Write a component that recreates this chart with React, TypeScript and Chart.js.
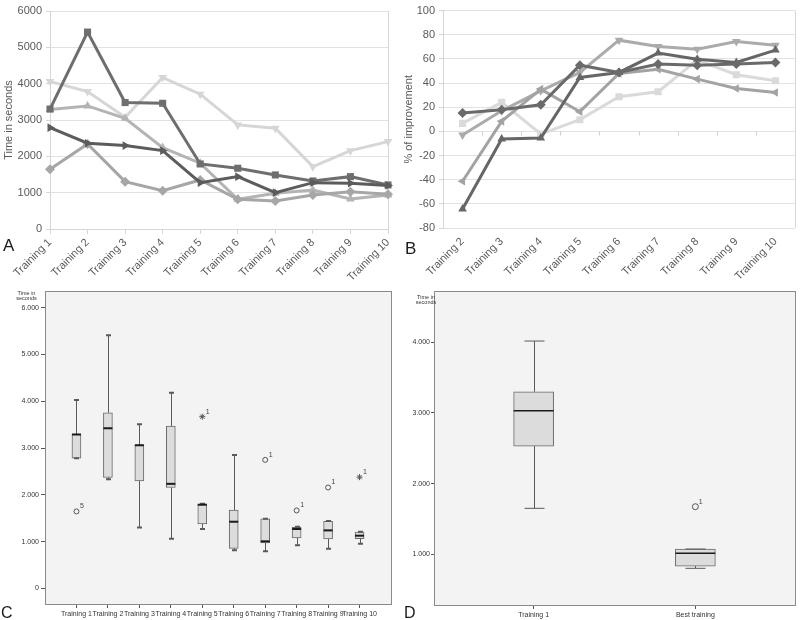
import React, { useEffect, useRef } from 'react';
import { Chart, registerables } from 'chart.js';

Chart.register(...registerables);

// ---------- shared labels ----------
const trainingLabels = ['Training 1', 'Training 2', 'Training 3', 'Training 4', 'Training 5', 'Training 6', 'Training 7', 'Training 8', 'Training 9', 'Training 10'];
const improvementLabels = ['Training 2', 'Training 3', 'Training 4', 'Training 5', 'Training 6', 'Training 7', 'Training 8', 'Training 9', 'Training 10'];
const bestLabels = ['Training 1', 'Best training'];

// ---------- panel A: time in seconds per participant ----------
const timeSquare = [3300, 5420, 3480, 3460, 1790, 1672, 1488, 1322, 1441, 1212];
const timeTriRight = [2790, 2360, 2295, 2157, 1275, 1441, 1000, 1275, 1258, 1200];
const timeTriDown = [4058, 3782, 3077, 4168, 3710, 2865, 2774, 1716, 2157, 2405];
const timeTriUp = [3287, 3388, 3049, 2240, 1810, 818, 983, 1074, 826, 937];
const timeDiamond = [1644, 2341, 1303, 1055, 1350, 818, 771, 937, 1028, 956];
const timeTicks = [0, 1000, 2000, 3000, 4000, 5000, 6000];

// ---------- panel B: % of improvement ----------
const impDiamond = [15.2, 18, 22, 54.8, 48.8, 55.7, 54.8, 55.7, 57];
const impTriUp = [-64.2, -6.3, -5.5, 44.6, 48.8, 64.8, 59.8, 57, 67.3];
const impTriLeft = [-41.3, 8.3, 35, 16.3, 48, 51.5, 43.3, 35.5, 32.2];
const impTriDown = [-3, 17, 33.6, 48.8, 75.5, 70.2, 68, 74.4, 71.4];
const impSquare = [6.6, 24, -2.2, 9.7, 28.7, 32.8, 59, 46.9, 41.9];

// ---------- panel C: box plots per training ----------
const cMin = [2780, 2336, 1306, 1065, 1271, 816, 795, 922, 852, 958];
const cQ1 = [2783, 2371, 2300, 2158, 1378, 858, 973, 1079, 1058, 1065];
const cMedian = [3290, 3423, 3060, 2236, 1790, 1427, 1008, 1271, 1242, 1129];
const cQ3 = [3295, 3755, 3067, 3472, 1803, 1676, 1491, 1306, 1434, 1208];
const cMax = [4025, 5410, 3508, 4182, 1810, 2854, 1491, 1322, 1441, 1212];
const cOutlierPos = [1, 5, 7, 8, 9, 10];
const cOutlierVal = [1647, 3670, 2748, 1668, 2158, 2379];
const cOutlierStyle = ['circle', 'star', 'circle', 'circle', 'circle', 'star'];
const cOutlierLabel = ['5', '1', '1', '1', '1', '1'];
const cTicks = [0, 1000, 2000, 3000, 4000, 5000, 6000];

// ---------- panel D: training 1 vs best training ----------
const dMin = [1651, 802];
const dQ1 = [2532, 834];
const dMedian = [3032, 1014];
const dQ3 = [3301, 1075];
const dMax = [4018, 1075];
const dOutlierPos = [2];
const dOutlierVal = [1674];
const dOutlierStyle = ['circle'];
const dOutlierLabel = ['1'];
const dTicks = [1000, 2000, 3000, 4000];

const FONT = "'Liberation Sans', Arial, Helvetica, sans-serif";
const AXIS_TEXT = '#595959';
const GRID = '#e2e2e2';
const AXIS_LINE = '#d6d6d6';

function lineDs(label: string, data: number[], color: string, style: string, rotation: number) {
  return {
    label,
    data,
    borderColor: color,
    backgroundColor: color,
    borderWidth: 3,
    pointStyle: style,
    pointRadius: 5,
    pointRotation: rotation,
    pointBackgroundColor: color,
    pointBorderColor: color,
    pointBorderWidth: 0,
    tension: 0,
  };
}

const rightEdge = {
  id: 'rightEdge',
  beforeDatasetsDraw(chart: any) {
    const { ctx, chartArea: a } = chart;
    ctx.save();
    ctx.strokeStyle = AXIS_LINE;
    ctx.lineWidth = 1;
    ctx.beginPath();
    ctx.moveTo(Math.round(a.right) + 0.5, a.top);
    ctx.lineTo(Math.round(a.right) + 0.5, a.bottom);
    ctx.stroke();
    ctx.restore();
  },
};

const zeroTicks = {
  id: 'zeroTicks',
  beforeDatasetsDraw(chart: any) {
    const { ctx } = chart;
    const xs = chart.scales.x;
    const ys = chart.scales.y;
    const y0 = Math.round(ys.getPixelForValue(0)) + 0.5;
    ctx.save();
    ctx.strokeStyle = '#cfcfcf';
    ctx.lineWidth = 1;
    ctx.beginPath();
    for (let i = 1; i < improvementLabels.length; i++) {
      const px = Math.round(xs.getPixelForValue(i - 0.5)) + 0.5;
      ctx.moveTo(px, y0);
      ctx.lineTo(px, y0 + 4);
    }
    ctx.stroke();
    ctx.restore();
  },
};

const panelFrame = {
  id: 'panelFrame',
  beforeDraw(chart: any) {
    const { ctx, chartArea: a } = chart;
    ctx.save();
    ctx.fillStyle = '#f3f3f3';
    ctx.fillRect(a.left, a.top, a.right - a.left, a.bottom - a.top);
    ctx.restore();
  },
  afterDraw(chart: any) {
    const { ctx, chartArea: a } = chart;
    ctx.save();
    ctx.strokeStyle = '#8a8a8a';
    ctx.lineWidth = 1;
    ctx.strokeRect(Math.round(a.left) + 0.5, Math.round(a.top) + 0.5, Math.round(a.right - a.left), Math.round(a.bottom - a.top));
    ctx.restore();
  },
};

function boxPlugin(id: string, mins: number[], q1s: number[], meds: number[], q3s: number[], maxs: number[], capHalf: number, capWidth: number, medWidth: number) {
  return {
    id,
    afterDatasetsDraw(chart: any) {
      const { ctx } = chart;
      const ys = chart.scales.y;
      const meta = chart.getDatasetMeta(0);
      ctx.save();
      meds.forEach((m, i) => {
        const bar = meta.data[i];
        if (!bar) return;
        const x = Math.round(bar.x) + 0.5;
        const half = bar.width / 2;
        const pMax = ys.getPixelForValue(maxs[i]);
        const pMin = ys.getPixelForValue(mins[i]);
        const pQ1 = ys.getPixelForValue(q1s[i]);
        const pQ3 = ys.getPixelForValue(q3s[i]);
        const pMed = ys.getPixelForValue(m);
        ctx.strokeStyle = '#5a5a5a';
        ctx.lineWidth = 1;
        ctx.beginPath();
        ctx.moveTo(x, pQ3);
        ctx.lineTo(x, pMax);
        ctx.moveTo(x, pQ1);
        ctx.lineTo(x, pMin);
        ctx.stroke();
        ctx.lineWidth = capWidth;
        ctx.beginPath();
        ctx.moveTo(x - capHalf, pMax);
        ctx.lineTo(x + capHalf, pMax);
        ctx.moveTo(x - capHalf, pMin);
        ctx.lineTo(x + capHalf, pMin);
        ctx.stroke();
        ctx.strokeStyle = '#1a1a1a';
        ctx.lineWidth = medWidth;
        ctx.beginPath();
        ctx.moveTo(bar.x - half, pMed);
        ctx.lineTo(bar.x + half, pMed);
        ctx.stroke();
      });
      ctx.restore();
    },
  };
}

function annotPlugin(id: string, labels: string[], capX: number, capY: number) {
  return {
    id,
    afterDraw(chart: any) {
      const { ctx } = chart;
      ctx.save();
      ctx.fillStyle = '#333';
      ctx.font = `5.5px ${FONT}`;
      ctx.textAlign = 'center';
      ctx.textBaseline = 'middle';
      ctx.fillText('Time in', capX, capY);
      ctx.fillText('seconds', capX, capY + 5.5);
      const meta = chart.getDatasetMeta(1);
      ctx.font = `7px ${FONT}`;
      ctx.textAlign = 'left';
      ctx.fillStyle = '#444';
      meta.data.forEach((pt: any, j: number) => {
        ctx.fillText(labels[j], pt.x + 3.5, pt.y - 5);
      });
      ctx.restore();
    },
  };
}

const fmtThousands = (v: number) => (v === 0 ? '0' : `${Math.floor(v / 1000)}.${String(v % 1000).padStart(3, '0')}`);

function boxConfig(opts: {
  labels: string[]; mins: number[]; q1s: number[]; meds: number[]; q3s: number[]; maxs: number[];
  outPos: number[]; outVal: number[]; outStyle: string[]; outLabel: string[]; yTicks: number[];
  xMin: number; xMax: number; yMin: number; yMax: number; barThickness: number; capHalf: number; capWidth: number;
  medWidth: number; yWidth: number; xHeight: number; padRight: number; yTickLen: number; yTickPad: number;
  capX: number; capY: number; circleR: number; id: string;
}) {
  return {
    type: 'bar',
    data: {
      datasets: [
        {
          type: 'bar',
          data: opts.q1s.map((q1, i) => ({ x: i + 1, y: [q1, opts.q3s[i]] })),
          backgroundColor: '#dcdcdc',
          borderColor: '#6a6a6a',
          borderWidth: 1,
          borderSkipped: false,
          barThickness: opts.barThickness,
        },
        {
          type: 'scatter',
          data: opts.outPos.map((x, i) => ({ x, y: opts.outVal[i] })),
          pointStyle: opts.outStyle,
          pointRadius: opts.outStyle.map((s) => (s === 'star' ? 3 : opts.circleR)),
          pointBackgroundColor: 'rgba(0,0,0,0)',
          pointBorderColor: '#555',
          pointBorderWidth: 1,
          showLine: false,
        },
      ],
    },
    options: {
      responsive: false,
      animation: false,
      events: [],
      layout: { padding: { top: 6, right: opts.padRight, bottom: 0, left: 0 } },
      plugins: { legend: { display: false }, tooltip: { enabled: false } },
      scales: {
        x: {
          type: 'linear',
          min: opts.xMin,
          max: opts.xMax,
          offset: false,
          grid: { offset: false, drawOnChartArea: false, tickLength: 4, tickColor: '#555', color: '#555' },
          border: { display: false },
          ticks: {
            stepSize: 1,
            autoSkip: false,
            maxRotation: 0,
            minRotation: 0,
            padding: 2,
            color: '#333',
            font: { size: 7, family: FONT },
            callback: (v: number) => opts.labels[v - 1] ?? '',
          },
          afterBuildTicks: (s: any) => {
            s.ticks = opts.labels.map((_, i) => ({ value: i + 1 }));
          },
          afterFit: (s: any) => {
            s.height = opts.xHeight;
          },
        },
        y: {
          type: 'linear',
          min: opts.yMin,
          max: opts.yMax,
          beginAtZero: false,
          grid: { drawOnChartArea: false, tickLength: opts.yTickLen, tickColor: '#555', color: '#555' },
          border: { display: false },
          ticks: {
            padding: opts.yTickPad,
            color: '#333',
            font: { size: 7, family: FONT },
            callback: (v: number) => fmtThousands(v),
          },
          afterBuildTicks: (s: any) => {
            s.ticks = opts.yTicks.map((v) => ({ value: v }));
          },
          afterFit: (s: any) => {
            s.width = opts.yWidth;
          },
        },
      },
    },
    plugins: [
      panelFrame,
      boxPlugin(opts.id + 'Box', opts.mins, opts.q1s, opts.meds, opts.q3s, opts.maxs, opts.capHalf, opts.capWidth, opts.medWidth),
      annotPlugin(opts.id + 'Annot', opts.outLabel, opts.capX, opts.capY),
    ],
  };
}

const letterStyle = (left: number, top: number, size: number): React.CSSProperties => ({
  position: 'absolute',
  left,
  top,
  fontFamily: FONT,
  fontSize: size,
  lineHeight: `${size}px`,
  color: '#1a1a1a',
});

export default function App() {
  const aRef = useRef<HTMLCanvasElement>(null);
  const bRef = useRef<HTMLCanvasElement>(null);
  const cRef = useRef<HTMLCanvasElement>(null);
  const dRef = useRef<HTMLCanvasElement>(null);

  useEffect(() => {
    const charts: Chart[] = [];
    const tickFont = { size: 11, family: FONT };

    charts.push(
      new Chart(aRef.current as HTMLCanvasElement, {
        type: 'line',
        data: {
          labels: trainingLabels,
          datasets: [
            lineDs('Participant A', timeTriRight, '#5c5c5c', 'triangle', 90),
            lineDs('Participant B', timeSquare, '#6e6e6e', 'rect', 0),
            lineDs('Participant C', timeDiamond, '#a6a6a6', 'rectRot', 0),
            lineDs('Participant D', timeTriUp, '#b4b4b4', 'triangle', 0),
            lineDs('Participant E', timeTriDown, '#d6d6d6', 'triangle', 180),
          ],
        },
        options: {
          responsive: false,
          animation: false,
          events: [],
          layout: { padding: { top: 11, right: 12, bottom: 0, left: 0 } },
          plugins: { legend: { display: false }, tooltip: { enabled: false } },
          scales: {
            x: {
              offset: false,
              grid: {
                color: (c: any) => (c.index === trainingLabels.length - 1 ? AXIS_LINE : 'rgba(0,0,0,0)'),
                tickColor: AXIS_LINE,
                tickLength: 5,
              },
              border: { color: AXIS_LINE },
              ticks: { minRotation: 45, maxRotation: 45, autoSkip: false, padding: 2, color: AXIS_TEXT, font: tickFont },
              afterFit: (s: any) => {
                s.height = 56;
              },
            },
            y: {
              min: 0,
              max: 6000,
              grid: { color: GRID, tickColor: AXIS_LINE, tickLength: 4 },
              border: { color: AXIS_LINE },
              ticks: { padding: 4, color: AXIS_TEXT, font: tickFont, callback: (v: number) => String(v) },
              afterBuildTicks: (s: any) => {
                s.ticks = timeTicks.map((v) => ({ value: v }));
              },
              title: { display: true, text: 'Time in seconds', color: AXIS_TEXT, font: { size: 11, family: FONT }, padding: { top: 2, bottom: 0 } },
              afterFit: (s: any) => {
                s.width = 50;
              },
            },
          },
        },
      } as any)
    );

    charts.push(
      new Chart(bRef.current as HTMLCanvasElement, {
        type: 'line',
        data: {
          labels: improvementLabels,
          datasets: [
            lineDs('Participant A', impDiamond, '#6a6a6a', 'rectRot', 0),
            lineDs('Participant B', impTriUp, '#666666', 'triangle', 0),
            lineDs('Participant C', impTriLeft, '#a3a3a3', 'triangle', 270),
            lineDs('Participant D', impTriDown, '#ababab', 'triangle', 180),
            lineDs('Participant E', impSquare, '#dadada', 'rect', 0),
          ],
        },
        options: {
          responsive: false,
          animation: false,
          events: [],
          layout: { padding: { top: 10, right: 3, bottom: 0, left: 0 } },
          plugins: { legend: { display: false }, tooltip: { enabled: false } },
          scales: {
            x: {
              offset: true,
              grid: { display: false, drawTicks: false },
              border: { display: false },
              ticks: { minRotation: 45, maxRotation: 45, autoSkip: false, padding: 7, color: AXIS_TEXT, font: tickFont },
              afterFit: (s: any) => {
                s.height = 57;
              },
            },
            y: {
              min: -80,
              max: 100,
              grid: { color: GRID, tickColor: AXIS_LINE, tickLength: 4 },
              border: { color: AXIS_LINE },
              ticks: { stepSize: 20, padding: 4, color: AXIS_TEXT, font: tickFont, callback: (v: number) => String(v) },
              title: { display: true, text: '% of improvement', color: AXIS_TEXT, font: { size: 11, family: FONT }, padding: { top: 2, bottom: 0 } },
              afterFit: (s: any) => {
                s.width = 43;
              },
            },
          },
        },
        plugins: [rightEdge, zeroTicks],
      } as any)
    );

    charts.push(
      new Chart(
        cRef.current as HTMLCanvasElement,
        boxConfig({
          id: 'c',
          labels: trainingLabels,
          mins: cMin,
          q1s: cQ1,
          meds: cMedian,
          q3s: cQ3,
          maxs: cMax,
          outPos: cOutlierPos,
          outVal: cOutlierVal,
          outStyle: cOutlierStyle,
          outLabel: cOutlierLabel,
          yTicks: cTicks,
          xMin: 0,
          xMax: 11,
          yMin: -330,
          yMax: 6350,
          barThickness: 9,
          capHalf: 2.5,
          capWidth: 2,
          medWidth: 2,
          yWidth: 45,
          xHeight: 16,
          padRight: 9,
          yTickLen: 4,
          yTickPad: 2,
          capX: 26.5,
          capY: 8.3,
          circleR: 2.5,
        }) as any
      )
    );

    charts.push(
      new Chart(
        dRef.current as HTMLCanvasElement,
        boxConfig({
          id: 'd',
          labels: bestLabels,
          mins: dMin,
          q1s: dQ1,
          meds: dMedian,
          q3s: dQ3,
          maxs: dMax,
          outPos: dOutlierPos,
          outVal: dOutlierVal,
          outStyle: dOutlierStyle,
          outLabel: dOutlierLabel,
          yTicks: dTicks,
          xMin: 0.384,
          xMax: 2.616,
          yMin: 283,
          yMax: 4726,
          barThickness: 40,
          capHalf: 10,
          capWidth: 1,
          medWidth: 1.5,
          yWidth: 34,
          xHeight: 15,
          padRight: 3,
          yTickLen: 3,
          yTickPad: 1,
          capX: 26,
          capY: 12.3,
          circleR: 3,
        }) as any
      )
    );

    return () => charts.forEach((c) => c.destroy());
  }, []);

  return (
    <div style={{ position: 'fixed', left: 0, top: 0, width: 800, height: 620, background: '#ffffff', overflow: 'hidden' }}>
      <canvas ref={aRef} width={400} height={285} style={{ position: 'absolute', left: 0, top: 0 }} />
      <canvas ref={bRef} width={400} height={285} style={{ position: 'absolute', left: 400, top: 0 }} />
      <canvas ref={cRef} width={400} height={335} style={{ position: 'absolute', left: 0, top: 285 }} />
      <canvas ref={dRef} width={400} height={335} style={{ position: 'absolute', left: 400, top: 285 }} />
      <div style={letterStyle(3, 237, 17)}>A</div>
      <div style={letterStyle(405, 239.5, 17)}>B</div>
      <div style={letterStyle(1, 604.5, 16)}>C</div>
      <div style={letterStyle(404, 604.5, 16)}>D</div>
    </div>
  );
}
